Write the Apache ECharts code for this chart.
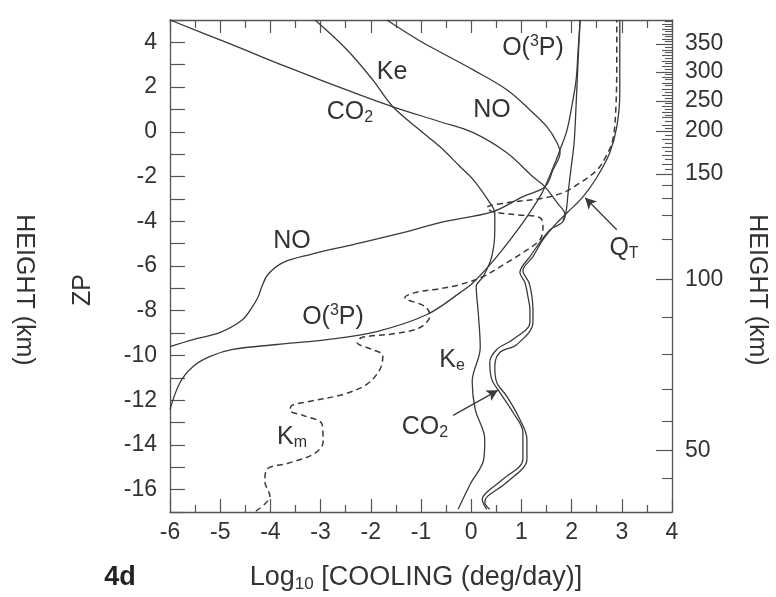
<!DOCTYPE html>
<html><head><meta charset="utf-8">
<script src="https://cdn.jsdelivr.net/npm/echarts@6/dist/echarts.min.js"></script>
<style>html,body{margin:0;padding:0;background:#fff}#c{width:776px;height:597px}</style>
</head><body><div id="c"></div>
<script>
// [log10 cooling, ZP]
const co2Curve = [[-6.00,5.00],[-4.80,3.93],[-3.67,2.90],[-2.22,1.65],[-1.56,1.12],[-0.62,0.45],[0.04,-0.04],[0.71,-0.94],[1.23,-2.01],[1.47,-2.46],[1.71,-3.17],[1.87,-3.71],[1.81,-4.06],[1.57,-4.38],[1.17,-5.58],[0.97,-6.29],[1.07,-6.74],[1.13,-7.37],[1.17,-7.95],[1.17,-8.53],[0.83,-9.29],[0.51,-9.73],[0.37,-10.31],[0.41,-11.07],[0.57,-11.65],[0.83,-12.54],[1.03,-13.44],[1.03,-14.64],[0.63,-15.54],[0.31,-16.12],[0.22,-16.43],[0.31,-16.88]];
const totalCurve = [[2.96,5.00],[2.96,1.74],[2.90,0.22],[2.76,-0.94],[2.51,-2.01],[2.23,-2.90],[1.91,-3.62],[1.71,-4.06],[1.43,-4.82],[1.23,-5.58],[1.03,-6.21],[1.15,-6.74],[1.21,-7.37],[1.23,-7.95],[1.23,-8.53],[0.91,-9.51],[0.57,-9.87],[0.47,-10.49],[0.51,-11.21],[0.71,-11.83],[0.97,-12.86],[1.11,-13.75],[1.11,-14.64],[0.71,-15.67],[0.33,-16.29],[0.27,-16.56],[0.37,-16.88]];
const extraCurve = [[1.83,-3.97],[1.89,-3.57],[1.93,-2.74],[1.99,-1.61],[2.05,-0.49],[2.09,1.21],[2.13,3.21],[2.17,5.00]];
const o3pCurve = [[-6.00,-12.41],[-5.80,-11.21],[-5.54,-10.49],[-5.20,-10.04],[-4.75,-9.73],[-3.87,-9.51],[-2.87,-9.29],[-1.88,-8.93],[-0.88,-8.17],[-0.22,-7.19],[0.04,-6.74],[0.51,-5.58],[1.03,-4.06],[1.37,-2.90],[1.47,-2.46],[1.67,-1.38],[1.77,-0.80],[1.91,0.09],[2.01,1.21],[2.09,2.32],[2.13,3.66],[2.17,5.00]];
const noCurve = [[-1.68,5.00],[-1.02,4.06],[-0.62,3.57],[0.04,2.77],[0.71,1.88],[1.17,0.98],[1.51,0.22],[1.71,-0.49],[1.77,-0.94],[1.63,-1.70],[1.47,-2.46],[1.03,-2.90],[0.43,-3.57],[-0.62,-4.06],[-1.36,-4.51],[-2.35,-5.04],[-3.21,-5.49],[-3.75,-5.85],[-4.05,-6.38],[-4.17,-6.92],[-4.25,-7.41],[-4.37,-7.86],[-4.55,-8.39],[-5.00,-8.97],[-5.54,-9.29],[-6.00,-9.60]];
const keCurve = [[-3.11,5.00],[-2.47,3.66],[-1.96,2.32],[-1.56,1.12],[-0.96,-0.04],[-0.62,-0.67],[-0.22,-1.56],[0.04,-2.14],[0.37,-3.17],[0.47,-3.62],[0.47,-4.38],[0.41,-5.58],[0.24,-6.47],[0.10,-6.92],[0.14,-8.08],[0.18,-9.64],[0.02,-11.16],[0.08,-12.41],[0.27,-13.75],[0.25,-14.64],[-0.02,-15.76],[-0.26,-16.88]];
const kmCurve = [[-4.29,-16.96],[-4.01,-16.29],[-4.11,-15.63],[-4.07,-15.09],[-3.65,-14.82],[-3.15,-14.42],[-2.95,-13.88],[-2.97,-13.08],[-3.35,-12.68],[-3.61,-12.46],[-3.57,-12.23],[-3.21,-12.05],[-2.55,-11.74],[-2.08,-11.29],[-1.82,-10.63],[-1.76,-10.00],[-1.98,-9.73],[-2.27,-9.42],[-2.18,-9.20],[-1.52,-9.02],[-1.02,-8.75],[-0.82,-8.21],[-0.92,-7.81],[-1.32,-7.41],[-1.12,-7.19],[-0.62,-7.01],[-0.22,-6.83],[0.24,-6.47],[0.71,-5.85],[1.03,-5.40],[1.37,-4.82],[1.43,-4.24],[1.37,-3.84],[0.91,-3.71],[0.43,-3.57],[0.31,-3.39],[0.71,-3.17],[1.37,-2.99],[1.83,-2.72],[2.17,-2.28],[2.51,-1.70],[2.67,-1.16],[2.82,-0.36],[2.88,0.98],[2.90,3.21],[2.90,5.00]];
// right axis: height (km) and where its ticks sit in ZP
const heightMajor = [50,100,150,200,250,300,350];
const heightMajorZp = [-14.24,-6.61,-1.88,0.04,1.38,2.68,3.93];
const heightMinor = [40,60,70,80,90,110,120,130,140,160,170,180,190,210,220,230,240,260,270,280,290,310,320,330,340,360,370,380,390];
const heightMinorZp = [-15.49,-12.95,-11.52,-9.96,-8.30,-4.82,-3.71,-2.95,-2.37,-1.43,-1.03,-0.67,-0.31,0.31,0.63,0.89,1.16,1.65,1.92,2.19,2.46,2.95,3.17,3.44,3.66,4.15,4.38,4.60,4.82];
const heightFine = [155,165,175,185,195,205,215,225,235,245,255,265,275,285,295,305,315,325,335,345,355,365,375,385,395];
const heightFineZp = [-1.66,-1.23,-0.85,-0.49,-0.14,0.18,0.47,0.76,1.03,1.27,1.52,1.79,2.06,2.33,2.57,2.82,3.06,3.31,3.55,3.80,4.04,4.27,4.49,4.71,4.93];
// arrows [from, to]
const co2Arrow = [[-0.36,-12.68],[0.53,-11.56]];
const qtArrow = [[2.90,-4.38],[2.27,-2.95]];

const FONT = '"Liberation Sans", Arial, sans-serif';
const INK = '#3a3a3a';
const TXT = '#333';
const chart = echarts.init(document.getElementById('c'), null, {renderer: 'canvas'});

function line(name, data, dashed) {
  return {
    name, type: 'line', data, showSymbol: false, smooth: 0.35, xAxisIndex: 0, yAxisIndex: 0,
    lineStyle: {color: INK, width: dashed ? 1.5 : 1.3, type: dashed ? [6, 4] : 'solid'},
    silent: true, animation: false, z: 3
  };
}
function arrow(pts) {
  return {
    type: 'line', data: [], xAxisIndex: 0, yAxisIndex: 0, silent: true, animation: false,
    markLine: {
      symbol: ['none', 'arrow'], symbolSize: [9, 11], silent: true, animation: false,
      label: {show: false}, lineStyle: {color: INK, width: 1.3, type: 'solid'},
      data: [[{coord: pts[0]}, {coord: pts[1]}]]
    }
  };
}
const axisLineStyle = {onZero: false, lineStyle: {color: '#555', width: 1.3}};
const tickColor = '#555';

const subStyle = {fontSize: 16, fontFamily: FONT, fill: TXT, verticalAlign: 'bottom', lineHeight: 13};
const supStyle = {fontSize: 16, fontFamily: FONT, fill: TXT, verticalAlign: 'top', lineHeight: 13};
const baseStyle = {fontSize: 25, fontFamily: FONT, fill: TXT, lineHeight: 28};
const titleStyle = {fontSize: 27, fontFamily: FONT, fill: TXT, lineHeight: 30};
const titleSub = {fontSize: 17, fontFamily: FONT, fill: TXT, verticalAlign: 'bottom', lineHeight: 14};
function lbl(x, y, text) {
  return {
    type: 'text', x, y, silent: true,
    style: {text, fontSize: 25, fontFamily: FONT, fill: TXT, align: 'center', verticalAlign: 'middle',
      rich: {a: baseStyle, s: subStyle, p: supStyle}}
  };
}
function rightTicks(values, len) {
  return {type: 'value', position: 'right', min: -17, max: 5,
    axisLine: {show: false, onZero: false}, splitLine: {show: false},
    axisTick: {inside: true, length: len, customValues: values, lineStyle: {color: tickColor, width: 1.1}},
    axisLabel: {show: false}};
}

chart.setOption({
  animation: false,
  backgroundColor: '#fff',
  grid: {left: 170, top: 20, width: 502, height: 492, containLabel: false},
  xAxis: [
    {type: 'value', position: 'bottom', min: -6, max: 4, interval: 1,
      axisLine: {show: true, ...axisLineStyle}, splitLine: {show: false},
      axisTick: {inside: true, length: 13, lineStyle: {color: tickColor, width: 1.2}},
      minorTick: {show: true, splitNumber: 2, length: 7, lineStyle: {color: tickColor, width: 1.2}},
      axisLabel: {fontSize: 23, fontFamily: FONT, color: TXT, margin: 9}},
    {type: 'value', position: 'top', min: -6, max: 4, interval: 1,
      axisLine: {show: true, ...axisLineStyle}, splitLine: {show: false},
      axisTick: {inside: true, length: 13, lineStyle: {color: tickColor, width: 1.2}},
      minorTick: {show: true, splitNumber: 2, length: 8, lineStyle: {color: tickColor, width: 1.2}},
      axisLabel: {show: false}}
  ],
  yAxis: [
    {type: 'value', position: 'left', min: -17, max: 5, interval: 1,
      axisLine: {show: true, ...axisLineStyle}, splitLine: {show: false},
      axisTick: {inside: true, length: 15, lineStyle: {color: tickColor, width: 1.2}},
      axisLabel: {fontSize: 23, fontFamily: FONT, color: TXT, margin: 13,
        formatter: v => (Math.round(v) % 2 === 0 ? String(v) : '')}},
    {type: 'value', position: 'right', min: -17, max: 5,
      axisLine: {show: true, ...axisLineStyle}, splitLine: {show: false},
      axisTick: {inside: true, length: 16, customValues: heightMajorZp, lineStyle: {color: tickColor, width: 1.2}},
      axisLabel: {fontSize: 23, fontFamily: FONT, color: TXT, margin: 13, customValues: heightMajorZp,
        formatter: v => {
          let best = 0;
          heightMajorZp.forEach((z, i) => { if (Math.abs(z - v) < Math.abs(heightMajorZp[best] - v)) best = i; });
          return String(heightMajor[best]);
        }}},
    rightTicks(heightMinorZp, 10),
    rightTicks(heightFineZp, 7)
  ],
  series: [
    line('CO2', co2Curve),
    line('QT', totalCurve),
    line('extra', extraCurve),
    line('O3P', o3pCurve),
    line('NO', noCurve),
    line('Ke', keCurve),
    line('Km', kmCurve, true),
    arrow(co2Arrow),
    arrow(qtArrow)
  ],
  graphic: [
    lbl(392, 72, 'Ke'),
    lbl(350, 112, '{a|CO}{s|2}'),
    lbl(492, 110, 'NO'),
    lbl(533, 48, '{a|O(}{p|3}{a|P)}'),
    lbl(292, 241, 'NO'),
    lbl(333, 317, '{a|O(}{p|3}{a|P)}'),
    lbl(452, 360, '{a|K}{s|e}'),
    lbl(425, 427, '{a|CO}{s|2}'),
    lbl(292, 437, '{a|K}{s|m}'),
    lbl(624, 248, '{a|Q}{s|T}'),
    {type: 'text', x: 83, y: 290, rotation: Math.PI / 2, silent: true,
      style: {text: 'ZP', fontSize: 25, fontFamily: FONT, fill: TXT, align: 'center', verticalAlign: 'middle'}},
    {type: 'text', x: 24, y: 290, rotation: -Math.PI / 2, silent: true,
      style: {text: 'HEIGHT (km)', fontSize: 25, fontFamily: FONT, fill: TXT, align: 'center', verticalAlign: 'middle'}},
    {type: 'text', x: 757, y: 290, rotation: -Math.PI / 2, silent: true,
      style: {text: 'HEIGHT (km)', fontSize: 25, fontFamily: FONT, fill: TXT, align: 'center', verticalAlign: 'middle'}},
    {type: 'text', x: 416, y: 578, silent: true,
      style: {text: '{a|Log}{s|10}{a| [COOLING (deg/day)]}', fontSize: 27, fontFamily: FONT, fill: TXT, align: 'center', verticalAlign: 'middle',
        rich: {a: titleStyle, s: titleSub}}},
    {type: 'text', x: 120, y: 578, silent: true,
      style: {text: '4d', fontSize: 27, fontWeight: 'bold', fontFamily: FONT, fill: '#222', align: 'center', verticalAlign: 'middle'}}
  ]
});
</script></body></html>
